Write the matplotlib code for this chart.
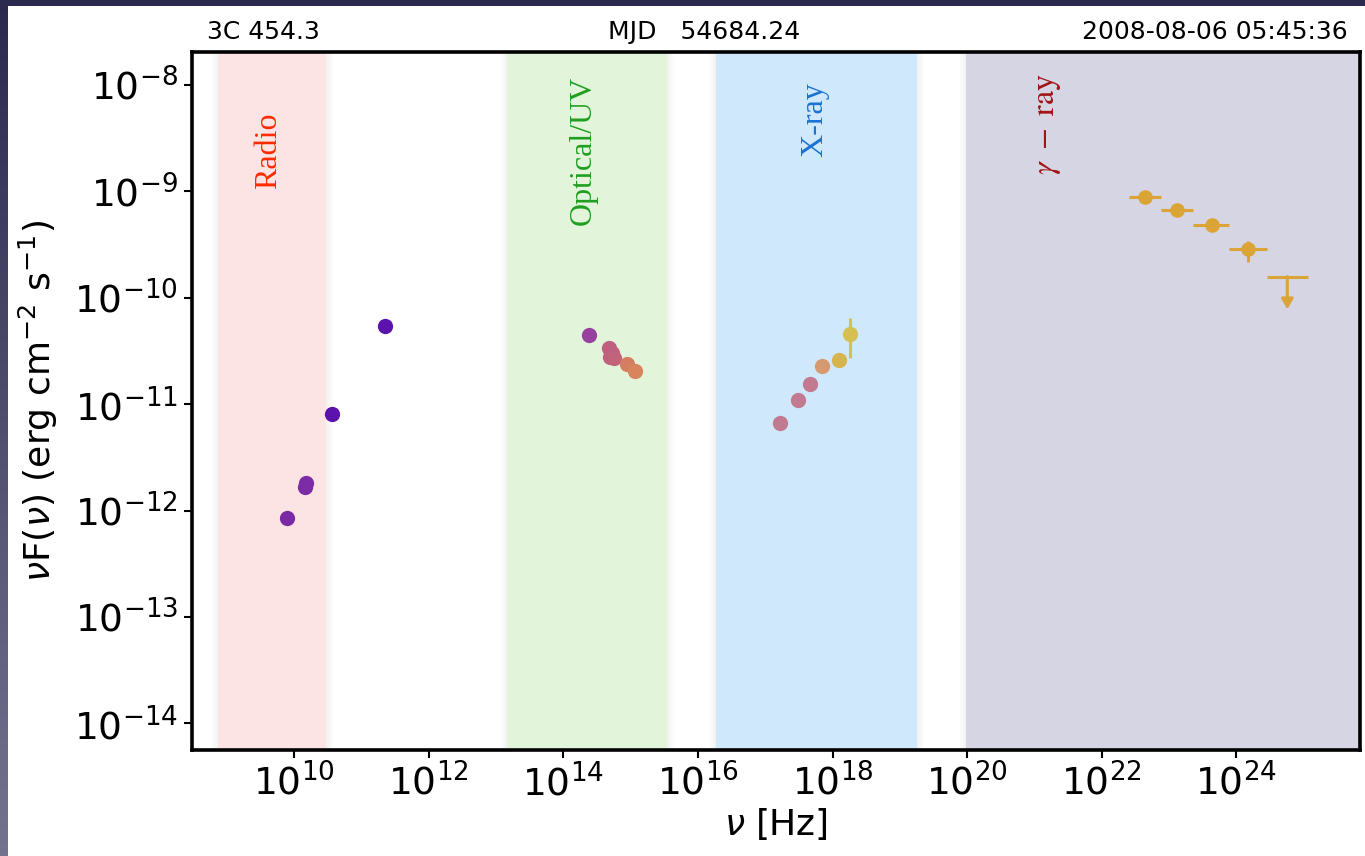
import numpy as np
import matplotlib
matplotlib.use("Agg")
import matplotlib.pyplot as plt
from matplotlib.colors import LinearSegmentedColormap

# --- data ---
radio_nu = [7.9e9, 1.45e10, 1.48e10, 3.7e10, 2.24e11]
radio_flux = [8.5e-13, 1.66e-12, 1.82e-12, 8.1e-12, 5.4e-11]
radio_col = ["#7a2ba3", "#7d2ca5", "#7b2ca6", "#5c13ad", "#5c13ad"]

opt_nu = [2.42e14, 4.75e14, 5.3e14, 4.9e14, 5.6e14, 8.9e14, 1.17e15]
opt_flux = [4.47e-11, 3.4e-11, 3.0e-11, 2.75e-11, 2.7e-11, 2.40e-11, 2.04e-11]
opt_col = ["#98409e", "#c0607f", "#c0607f", "#c0607f", "#c2637c", "#d67e62", "#d8845c"]

xray_nu = [1.66e17, 3.09e17, 4.68e17, 7.08e17, 1.23e18, 1.82e18]
xray_flux = [6.7e-12, 1.10e-11, 1.55e-11, 2.29e-11, 2.63e-11, 4.57e-11]
xray_col = ["#c27a90", "#c27a90", "#c27a8e", "#d69a6e", "#d6b44e", "#d6c050"]
xray_err_lo = [0, 0, 0, 0, 0, 1.88e-11]
xray_err_hi = [0, 0, 0, 0, 0, 1.89e-11]

gam_nu = [4.42e22, 1.31e23, 4.33e23, 1.51e24]
gam_lo = [2.55e22, 7.55e22, 2.29e23, 7.94e23]
gam_hi = [7.55e22, 2.29e23, 7.94e23, 2.88e24]
gam_flux = [8.9e-10, 6.68e-10, 4.83e-10, 2.86e-10]
gam_ferr_lo = [0, 0, 0, 0.67e-10]
gam_ferr_hi = [0, 0, 0, 0.58e-10]
gam_col = "#dba436"

ul_nu, ul_lo, ul_hi = 5.75e24, 2.88e24, 1.17e25
ul_flux, ul_tip = 1.58e-10, 7.8e-11

bands = ["Radio", "Optical/UV", "X-ray", r"$\gamma\ -\ \mathrm{ray}$"]
band_lo = [7.4e8, 1.45e13, 1.86e16, 9.8e19]
band_hi = [3.0e10, 3.45e15, 1.82e19, 8.0e25]
band_face = ["#fde4e4", "#e2f5da", "#cfe8fb", "#d5d5e3"]
band_text = ["#ff2a00", "#1e9e1e", "#1a73d0", "#a01414"]
band_tx = [4.1e9, 1.95e14, 5.5e17, 1.6e21]
band_ty = [2.4e-9, 2.45e-9, 4.7e-9, 4.3e-9]

fig = plt.figure(figsize=(13.65, 8.56), dpi=100)
ax = fig.add_axes([192 / 1365, 106 / 856, 1168 / 1365, 698 / 856])
ax.set_xscale("log")
ax.set_yscale("log")
ax.set_xlim(10 ** 8.48, 10 ** 25.84)
ax.set_ylim(10 ** -14.25, 10 ** -7.69)

# shaded bands with soft edges
for lo, hi, fc, lab, tc, tx, ty in zip(band_lo, band_hi, band_face, bands,
                                       band_text, band_tx, band_ty):
    for k in range(1, 5):
        f = 10 ** (0.025 * k)
        ax.axvspan(lo / f, hi * f, color="#808080", alpha=0.02, lw=0, zorder=0)
    ax.axvspan(lo, hi, color=fc, lw=0, zorder=0.5)
    ax.text(tx, ty, lab, rotation=90, color=tc, fontsize=23,
            family="Liberation Serif", math_fontfamily="stix",
            ha="center", va="center", zorder=1)

ms = 11
for x, y, c in zip(radio_nu, radio_flux, radio_col):
    ax.plot(x, y, "o", color=c, ms=ms, mec="none", zorder=3)
for x, y, c in zip(opt_nu, opt_flux, opt_col):
    ax.plot(x, y, "o", color=c, ms=ms, mec="none", zorder=3)
for x, y, c, el, eh in zip(xray_nu, xray_flux, xray_col, xray_err_lo, xray_err_hi):
    ax.errorbar(x, y, yerr=[[el], [eh]], fmt="o", color=c, ms=ms, mec="none",
                elinewidth=2.2, capsize=0, zorder=3)

for i in range(len(gam_nu)):
    ax.errorbar(gam_nu[i], gam_flux[i],
                xerr=[[gam_nu[i] - gam_lo[i]], [gam_hi[i] - gam_nu[i]]],
                yerr=[[gam_ferr_lo[i]], [gam_ferr_hi[i]]],
                fmt="o", color=gam_col, ms=10.5, mec="none",
                elinewidth=2.2, capsize=0, zorder=3)

# upper limit
ax.errorbar(ul_nu, ul_flux, xerr=[[ul_nu - ul_lo], [ul_hi - ul_nu]],
            fmt="none", ecolor=gam_col, elinewidth=2.2, capsize=0, zorder=3)
ax.annotate("", xy=(ul_nu, ul_tip), xytext=(ul_nu, ul_flux),
            arrowprops=dict(arrowstyle="-|>,head_width=0.35,head_length=0.6",
                            color=gam_col, lw=2.2, shrinkA=0, shrinkB=0),
            zorder=3)

ax.set_xticks([10.0 ** k for k in range(10, 26, 2)])
ax.set_yticks([10.0 ** k for k in range(-14, -7)])
ax.minorticks_off()
ax.tick_params(axis="both", direction="out", length=6, width=1.5,
               labelsize=27, pad=4)
for s in ax.spines.values():
    s.set_linewidth(2.6)
    s.set_zorder(4)

ax.set_xlabel(r"$\nu$ [Hz]", fontsize=26, labelpad=2)
ax.set_ylabel(r"$\nu$F($\nu$) (erg cm$^{-2}$ s$^{-1}$)", fontsize=26, labelpad=10)

fig.text(207 / 1365, 1 - 32 / 856, "3C 454.3", fontsize=18, va="center", ha="left")
fig.text(608 / 1365, 1 - 32 / 856, "MJD   54684.24", fontsize=18, va="center", ha="left")
fig.text(1348 / 1365, 1 - 32 / 856, "2008-08-06 05:45:36", fontsize=18,
         va="center", ha="right")

# dark window frame along top and left edge
frame = LinearSegmentedColormap.from_list("frame", ["#2b2a4e", "#74738f"])
side = fig.add_axes([0, 0, 8 / 1365, 1])
side.imshow(np.linspace(0, 1, 256).reshape(-1, 1), aspect="auto", cmap=frame)
side.axis("off")
top = fig.add_axes([0, 1 - 6 / 856, 1, 6 / 856])
top.set_facecolor("#2b2a4e")
top.set_xticks([])
top.set_yticks([])
for s in top.spines.values():
    s.set_visible(False)

fig.savefig("out.png", dpi=100)
